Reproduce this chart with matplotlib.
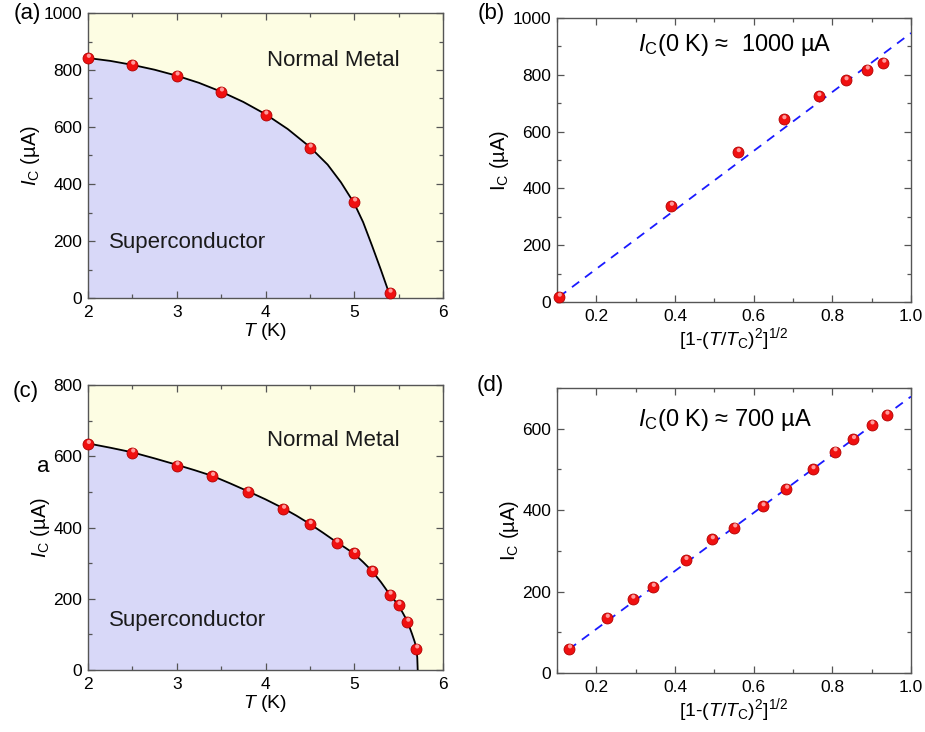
import matplotlib
matplotlib.use('Agg')
import matplotlib.pyplot as plt
import matplotlib.transforms as mtransforms
from matplotlib.ticker import MultipleLocator

plt.rcParams['font.family'] = ['Liberation Sans', 'DejaVu Sans']
plt.rcParams['mathtext.fontset'] = 'custom'
plt.rcParams['mathtext.rm'] = 'Liberation Sans'
plt.rcParams['mathtext.it'] = 'Liberation Sans:italic'
plt.rcParams['mathtext.bf'] = 'Liberation Sans:bold'
plt.rcParams['xtick.labelsize'] = 12.5
plt.rcParams['ytick.labelsize'] = 12.5

# ---------------- data ----------------
# panel (a)/(b)
T_a = [2.0, 2.5, 3.0, 3.5, 4.0, 4.5, 5.0, 5.4]
Ic_a = [842, 818, 780, 724, 643, 527, 338, 18]
x_b = [0.930, 0.888, 0.834, 0.765, 0.676, 0.560, 0.390, 0.105]
curve_a_T = [2.0, 2.25, 2.5, 2.75, 3.0, 3.25, 3.5, 3.75, 4.0, 4.25, 4.5,
             4.7, 4.85, 5.0, 5.1, 5.2, 5.3, 5.38, 5.41]
curve_a_I = [842, 832, 818, 801, 780, 755, 724, 688, 645, 593, 530,
             468, 406, 332, 266, 184, 99, 28, 0]
fit_b_x = [0.105, 1.0]
fit_b_y = [18, 947]

# panel (c)/(d)
T_c = [2.0, 2.5, 3.0, 3.4, 3.8, 4.2, 4.5, 4.8, 5.0, 5.2, 5.4, 5.5, 5.6, 5.7]
Ic_c = [634, 610, 574, 544, 500, 452, 409, 357, 328, 277, 211, 182, 135, 60]
x_d = [0.938, 0.900, 0.853, 0.806, 0.750, 0.683, 0.623, 0.551, 0.494,
       0.427, 0.344, 0.292, 0.227, 0.131]
curve_c_T = [2.0, 2.25, 2.5, 2.75, 3.0, 3.2, 3.4, 3.6, 3.8, 4.0, 4.2, 4.35,
             4.5, 4.65, 4.8, 4.9, 5.0, 5.1, 5.2, 5.3, 5.4, 5.45, 5.5, 5.55,
             5.6, 5.65, 5.68, 5.7, 5.71, 5.715]
curve_c_I = [636, 624, 611, 594, 576, 561, 545, 524, 502, 479, 454, 433,
             410, 385, 359, 343, 326, 303, 278, 247, 212, 197, 181, 159,
             136, 102, 80, 62, 35, 0]
fit_d_x = [0.13, 1.0]
fit_d_y = [58, 679]

# ---------------- style ----------------
YELLOW = '#fdfde3'
LAVENDER = '#d8d8f8'
SPINE = '#555555'
TICK_FS = 12.5
LABEL_FS = 14
BIG_FS = 16

W, H = 925, 732
fig = plt.figure(figsize=(W / 100, H / 100), dpi=100)


def px_axes(l, t, r, b):
    return fig.add_axes([l / W, 1 - b / H, (r - l) / W, (b - t) / H])


def style(ax, xmaj, xmin, ymaj, ymin):
    ax.xaxis.set_major_locator(MultipleLocator(xmaj))
    ax.xaxis.set_minor_locator(MultipleLocator(xmin))
    ax.yaxis.set_major_locator(MultipleLocator(ymaj))
    ax.yaxis.set_minor_locator(MultipleLocator(ymin))
    ax.tick_params(which='both', direction='in', top=True, right=True,
                   color=SPINE)
    ax.tick_params(which='major', length=5, width=0.9, labelsize=TICK_FS)
    ax.tick_params(which='minor', length=3, width=0.9)
    ax.tick_params(axis='x', which='major', pad=5)
    ax.tick_params(axis='y', which='major', pad=4)
    for s in ax.spines.values():
        s.set_color(SPINE)
        s.set_linewidth(1.0)


def spheres(ax, x, y):
    ax.scatter(x, y, s=62, color='#f01010', edgecolors='#b00000',
               linewidths=0.6, zorder=5, clip_on=False)
    off = mtransforms.ScaledTranslation(0.6 / 72, 1.6 / 72, fig.dpi_scale_trans)
    ax.scatter(x, y, s=9, color='#ff9a9a', edgecolors='none', zorder=6,
               clip_on=False, transform=ax.transData + off)


# panel (a)
ax = px_axes(88, 13, 443, 298)
ax.set_facecolor(YELLOW)
ax.fill_between(curve_a_T, 0, curve_a_I, color=LAVENDER, lw=0, zorder=1)
ax.plot(curve_a_T, curve_a_I, color='black', lw=1.3, zorder=3)
spheres(ax, T_a, Ic_a)
ax.set_xlim(2, 6)
ax.set_ylim(0, 1000)
style(ax, 1, 0.5, 200, 100)
ax.set_xlabel(r'$T$ (K)', fontsize=LABEL_FS, labelpad=1)
ax.set_ylabel(r'$I_{\mathrm{C}}$ (µA)', fontsize=LABEL_FS + 0.5, labelpad=1)
ax.text(0.504, 0.835, 'Normal Metal', transform=ax.transAxes,
        fontsize=BIG_FS, ha='left', va='center', color='#1a1a1a')
ax.text(0.059, 0.196, 'Superconductor', transform=ax.transAxes,
        fontsize=BIG_FS, ha='left', va='center', color='#1a1a1a')

# panel (b)
ax = px_axes(557, 18, 911, 302)
ax.plot(fit_b_x, fit_b_y, color='#1a1aff', lw=1.3, ls=(0, (5, 4)), zorder=3)
spheres(ax, x_b, Ic_a)
ax.set_xlim(0.1, 1.0)
ax.set_ylim(0, 1000)
style(ax, 0.2, 0.1, 200, 100)
ax.set_xlabel(r'[1-($T$/$T_{\mathrm{C}}$)$^{2}$]$^{1/2}$', fontsize=LABEL_FS, labelpad=1)
ax.set_ylabel(r'I$_{\mathrm{C}}$ (µA)', fontsize=LABEL_FS + 0.5, labelpad=1)
ax.text(0.229, 0.905, r'$I_{\mathrm{C}}$(0 K) ≈  1000 µA', transform=ax.transAxes,
        fontsize=17, ha='left', va='center')

# panel (c)
ax = px_axes(88, 385, 443, 670)
ax.set_facecolor(YELLOW)
ax.fill_between(curve_c_T, 0, curve_c_I, color=LAVENDER, lw=0, zorder=1)
ax.plot(curve_c_T, curve_c_I, color='black', lw=1.3, zorder=3)
spheres(ax, T_c, Ic_c)
ax.set_xlim(2, 6)
ax.set_ylim(0, 800)
style(ax, 1, 0.5, 200, 100)
ax.set_xlabel(r'$T$ (K)', fontsize=LABEL_FS, labelpad=1)
ax.set_ylabel(r'$I_{\mathrm{C}}$ (µA)', fontsize=LABEL_FS + 0.5, labelpad=1)
ax.text(0.504, 0.807, 'Normal Metal', transform=ax.transAxes,
        fontsize=BIG_FS, ha='left', va='center', color='#1a1a1a')
ax.text(0.059, 0.172, 'Superconductor', transform=ax.transAxes,
        fontsize=BIG_FS, ha='left', va='center', color='#1a1a1a')

# panel (d)
ax = px_axes(557, 388, 911, 673)
ax.plot(fit_d_x, fit_d_y, color='#1a1aff', lw=1.3, ls=(0, (5, 4)), zorder=3)
spheres(ax, x_d, Ic_c)
ax.set_xlim(0.1, 1.0)
ax.set_ylim(0, 700)
style(ax, 0.2, 0.1, 200, 100)
ax.set_xlabel(r'[1-($T$/$T_{\mathrm{C}}$)$^{2}$]$^{1/2}$', fontsize=LABEL_FS, labelpad=1)
ax.set_ylabel(r'I$_{\mathrm{C}}$ (µA)', fontsize=LABEL_FS + 0.5, labelpad=1)
ax.text(0.229, 0.888, r'$I_{\mathrm{C}}$(0 K) ≈ 700 µA', transform=ax.transAxes,
        fontsize=17, ha='left', va='center')

# panel letters and stray label
for lab, x, y in [('(a)', 27, 14), ('(b)', 491, 13), ('(c)', 26, 391), ('(d)', 490, 386)]:
    fig.text(x / W, 1 - y / H, lab, fontsize=BIG_FS, ha='center', va='center')
fig.text(43 / W, 1 - 467 / H, 'a', fontsize=BIG_FS, ha='center', va='center')

fig.savefig('out.png', dpi=100)
